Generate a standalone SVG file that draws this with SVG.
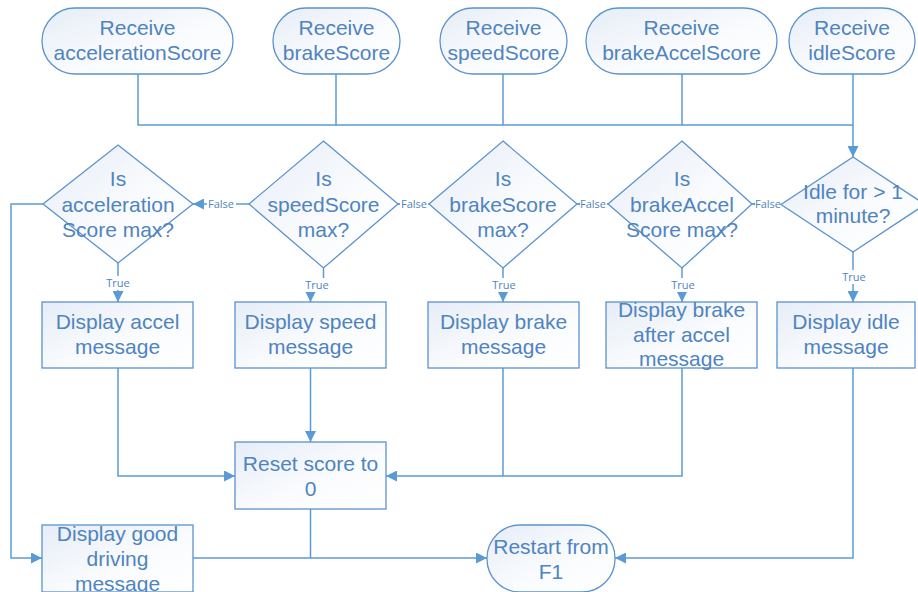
<svg xmlns="http://www.w3.org/2000/svg" width="918" height="592" viewBox="0 0 918 592">
  <defs>
    <linearGradient id="nodeFill" x1="0" y1="0" x2="1" y2="1">
      <stop offset="0" stop-color="#e6edf7"/>
      <stop offset="0.6" stop-color="#fbfcfe"/>
      <stop offset="1" stop-color="#ffffff"/>
    </linearGradient>
    <marker id="arrow" viewBox="0 0 10 10" refX="10" refY="5" markerWidth="11" markerHeight="11" markerUnits="userSpaceOnUse" orient="auto">
      <path d="M0,0 L10,5 L0,10 Z" fill="#5b9bd5"/>
    </marker>
  </defs>
  <style>
    .shape { fill: url(#nodeFill); stroke: #5b93cc; stroke-width: 1.3; }
    .label { font-family: "Liberation Sans", Arial, sans-serif; font-size: 21px; fill: #4f84c0; text-anchor: middle; }
    .tag { font-family: "Open Sans", "Liberation Sans", sans-serif; font-size: 11px; fill: #4f84c0; text-anchor: middle; }
    .tagbg { fill: #ffffff; }
    .line { fill: none; stroke: #5b9bd5; stroke-width: 1.5; }
    .arrowed { marker-end: url(#arrow); }
  </style>
  <rect width="918" height="592" fill="#ffffff"/>

  <!-- connectors -->
  <g id="connectors">
    <!-- receive nodes merge into one bus -->
    <path class="line" d="M138,74 V125 H853"/>
    <path class="line" d="M336,74 V125"/>
    <path class="line" d="M503,74 V125"/>
    <path class="line" d="M682,74 V125"/>
    <path class="line arrowed" d="M853,74 V157"/>

    <!-- false branches, right to left -->
    <path class="line arrowed" d="M781,204 H752"/>
    <path class="line arrowed" d="M608,204 H577"/>
    <path class="line arrowed" d="M429,204 H398"/>
    <path class="line arrowed" d="M249,204 H193"/>
    <rect class="tagbg" x="755" y="197" width="27" height="14"/>
    <text class="tag" x="768" y="208">False</text>
    <rect class="tagbg" x="580" y="197" width="27" height="14"/>
    <text class="tag" x="593" y="208">False</text>
    <rect class="tagbg" x="400" y="197" width="28" height="14"/>
    <text class="tag" x="414" y="208">False</text>
    <rect class="tagbg" x="207" y="197" width="29" height="14"/>
    <text class="tag" x="221" y="208">False</text>

    <!-- true branches -->
    <path class="line arrowed" d="M118,263 V302"/>
    <path class="line arrowed" d="M323.5,268 V284 H310.5 V302"/>
    <path class="line arrowed" d="M503,268 V302"/>
    <path class="line arrowed" d="M682,268 V302"/>
    <path class="line arrowed" d="M853,252 V302"/>
    <rect class="tagbg" x="104" y="276" width="28" height="14"/>
    <text class="tag" x="118" y="287">True</text>
    <rect class="tagbg" x="302" y="278" width="30" height="14"/>
    <text class="tag" x="317" y="289">True</text>
    <rect class="tagbg" x="490" y="278" width="28" height="14"/>
    <text class="tag" x="504" y="289">True</text>
    <rect class="tagbg" x="669" y="278" width="28" height="14"/>
    <text class="tag" x="683" y="289">True</text>
    <rect class="tagbg" x="840" y="270" width="28" height="14"/>
    <text class="tag" x="854" y="281">True</text>

    <!-- messages into reset -->
    <path class="line arrowed" d="M118,368 V476 H235"/>
    <path class="line arrowed" d="M310.5,368 V442"/>
    <path class="line arrowed" d="M682,368 V476 H386"/>
    <path class="line" d="M503,368 V476"/>

    <!-- into restart -->
    <path class="line arrowed" d="M193,558 H487"/>
    <path class="line" d="M310.5,509 V558"/>
    <path class="line arrowed" d="M853,368 V558 H615"/>

    <!-- no score maxed: good driving -->
    <path class="line arrowed" d="M43,204 H11 V558 H42"/>
  </g>

  <!-- receive terminators -->
  <g id="receive-acceleration">
    <rect class="shape" x="42" y="8" width="191" height="66" rx="33"/>
    <text class="label" x="137.5" y="35">Receive</text>
    <text class="label" x="137.5" y="60">accelerationScore</text>
  </g>
  <g id="receive-brake">
    <rect class="shape" x="273" y="8" width="127" height="66" rx="33"/>
    <text class="label" x="336.5" y="35">Receive</text>
    <text class="label" x="336.5" y="60">brakeScore</text>
  </g>
  <g id="receive-speed">
    <rect class="shape" x="440" y="8" width="127" height="66" rx="33"/>
    <text class="label" x="503.5" y="35">Receive</text>
    <text class="label" x="503.5" y="60">speedScore</text>
  </g>
  <g id="receive-brakeaccel">
    <rect class="shape" x="586" y="8" width="191" height="66" rx="33"/>
    <text class="label" x="681.5" y="35">Receive</text>
    <text class="label" x="681.5" y="60">brakeAccelScore</text>
  </g>
  <g id="receive-idle">
    <rect class="shape" x="789" y="8" width="126" height="66" rx="33"/>
    <text class="label" x="852" y="35">Receive</text>
    <text class="label" x="852" y="60">idleScore</text>
  </g>

  <!-- decisions -->
  <g id="is-acceleration-max">
    <polygon class="shape" points="118,145 193,204 118,263 43,204"/>
    <text class="label" x="118" y="186">Is</text>
    <text class="label" x="118" y="212">acceleration</text>
    <text class="label" x="118" y="237">Score max?</text>
  </g>
  <g id="is-speed-max">
    <polygon class="shape" points="323.5,141 398,204 323.5,268 249,204"/>
    <text class="label" x="323.5" y="186">Is</text>
    <text class="label" x="323.5" y="212">speedScore</text>
    <text class="label" x="323.5" y="237">max?</text>
  </g>
  <g id="is-brake-max">
    <polygon class="shape" points="503,141 577,204 503,268 429,204"/>
    <text class="label" x="503" y="186">Is</text>
    <text class="label" x="503" y="212">brakeScore</text>
    <text class="label" x="503" y="237">max?</text>
  </g>
  <g id="is-brakeaccel-max">
    <polygon class="shape" points="682,141 752,204 682,268 608,204"/>
    <text class="label" x="682" y="186">Is</text>
    <text class="label" x="682" y="212">brakeAccel</text>
    <text class="label" x="682" y="237">Score max?</text>
  </g>
  <g id="is-idle">
    <polygon class="shape" points="853,157 925,204.5 853,252 781,204.5"/>
    <text class="label" x="853" y="199">Idle for &gt; 1</text>
    <text class="label" x="853" y="223">minute?</text>
  </g>

  <!-- messages -->
  <g id="display-accel">
    <rect class="shape" x="42" y="302" width="151" height="66"/>
    <text class="label" x="117.5" y="329">Display accel</text>
    <text class="label" x="117.5" y="354">message</text>
  </g>
  <g id="display-speed">
    <rect class="shape" x="235" y="302" width="151" height="66"/>
    <text class="label" x="310.5" y="329">Display speed</text>
    <text class="label" x="310.5" y="354">message</text>
  </g>
  <g id="display-brake">
    <rect class="shape" x="428" y="302" width="151" height="66"/>
    <text class="label" x="503.5" y="329">Display brake</text>
    <text class="label" x="503.5" y="354">message</text>
  </g>
  <g id="display-brakeaccel">
    <rect class="shape" x="606" y="302" width="151" height="66"/>
    <text class="label" x="681.5" y="317">Display brake</text>
    <text class="label" x="681.5" y="342">after accel</text>
    <text class="label" x="681.5" y="366">message</text>
  </g>
  <g id="display-idle">
    <rect class="shape" x="777" y="302" width="138" height="66"/>
    <text class="label" x="846" y="329">Display idle</text>
    <text class="label" x="846" y="354">message</text>
  </g>

  <g id="reset-score">
    <rect class="shape" x="235" y="442" width="151" height="67"/>
    <text class="label" x="310.5" y="471">Reset score to</text>
    <text class="label" x="310.5" y="496">0</text>
  </g>
  <g id="display-good">
    <rect class="shape" x="42" y="525" width="151" height="67"/>
    <text class="label" x="117.5" y="541">Display good</text>
    <text class="label" x="117.5" y="566">driving</text>
    <text class="label" x="117.5" y="591">message</text>
  </g>
  <g id="restart">
    <rect class="shape" x="487" y="525" width="128" height="67" rx="33"/>
    <text class="label" x="551" y="554">Restart from</text>
    <text class="label" x="551" y="579">F1</text>
  </g>
</svg>
